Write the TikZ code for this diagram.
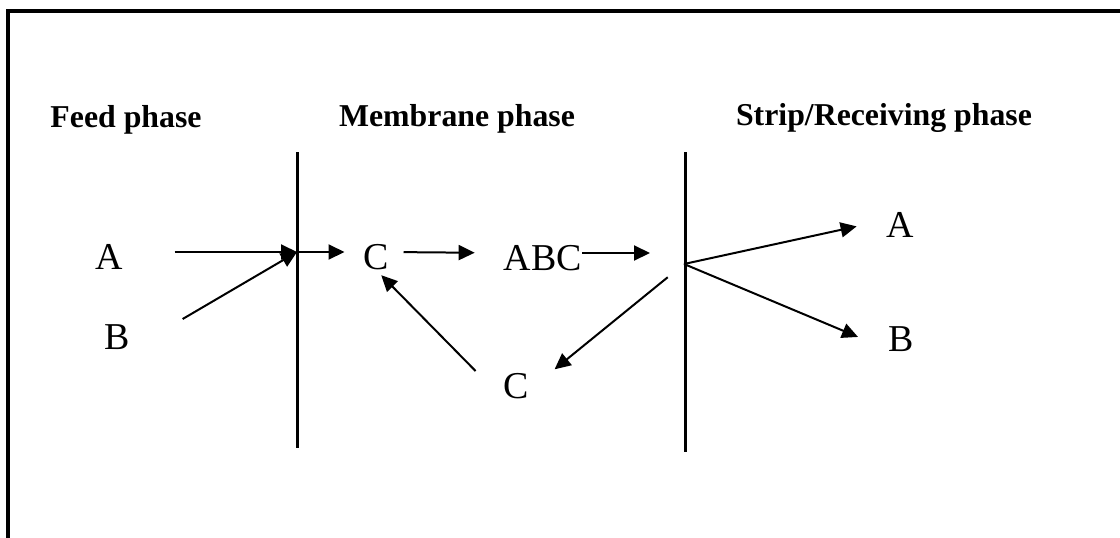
\documentclass[tikz,border=0pt]{standalone}
\usepackage{fontspec}
\setmainfont{Liberation Serif}
\usetikzlibrary{arrows.meta}
\tikzset{>={Triangle[length=0.32cm,width=0.3cm]}}

\begin{document}
\begin{tikzpicture}[x=0.02cm,y=-0.02cm]
\useasboundingbox (0,0) rectangle (1120,538);
\draw[line width=0.065cm] (8,538) -- (8,11) -- (1120,11);

\begin{scope}[every node/.style={font=\bfseries\fontsize{18.1}{22}\selectfont,anchor=base}]
\node (feed) at (126,127) {Feed phase};
\node (memb) at (457,126) {Membrane phase};
\node (strip) at (884,125) {Strip/Receiving phase};
\end{scope}

\coordinate (m1top) at (297,152);
\coordinate (m1bot) at (297,448);
\coordinate (m2top) at (685,152);
\coordinate (m2bot) at (685,452);
\draw[line width=0.06cm] (m1top) -- (m1bot);
\draw[line width=0.06cm] (m2top) -- (m2bot);
\coordinate (j1) at (297,252);
\coordinate (j2) at (684,264);

\begin{scope}[every node/.style={font=\fontsize{21.6}{26}\selectfont,inner sep=0pt,text height=0.7cm,text depth=0pt}]
\node (A1) at (109,252) {A};
\node (B1) at (117,332) {B};
\node (C1) at (376,252) {C};
\node (ABC) at (543,253) {ABC};
\node (C2) at (516,381) {C};
\node (A2) at (900,220) {A};
\node (B2) at (901,334) {B};
\end{scope}

\begin{scope}[every edge/.style={draw=black,line width=0.04cm}]
    \path [->] (A1.east) edge [shorten <=1.03cm] (j1);
    \path [->] (B1.south east) edge [shorten <=1.22cm] (j1);
    \path [->] (j1) edge [shorten >=0.37cm] (C1.west);

    \path [->] (C1.east) edge [shorten <=0.29cm,shorten >=0.58cm] (ABC.west);
    \path [->] (ABC.east) edge [shorten >=0.68cm] (ABC.east -| j2);

    \path [->] (j2) edge [shorten >=0.6cm] (A2.west);
    \path [->] (j2) edge [shorten >=0.65cm] (B2.230);

    \path [->] (j2) edge [shorten <=0.42cm,shorten >=0.66cm] (C2.325);
    \path [->] (C2.south west) edge [shorten <=0.78cm,shorten >=0.15cm] (C1.south);
\end{scope}
\end{tikzpicture}
\end{document}
